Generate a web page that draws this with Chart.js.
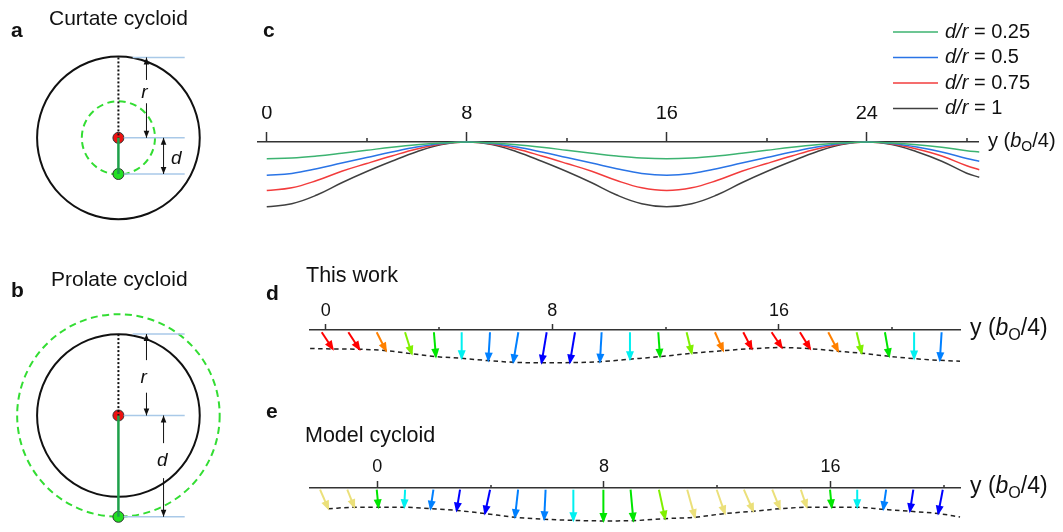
<!DOCTYPE html>
<html>
<head>
<meta charset="utf-8">
<script src="https://cdn.jsdelivr.net/npm/chart.js@4.4.1/dist/chart.umd.min.js"></script>
<style>
  body { margin: 0; background: #fff; width: 1063px; height: 532px; position: relative; overflow: hidden;
         font-family: "Liberation Sans", Arial, sans-serif; color: #111; }
  canvas { position: absolute; }
  .t { position: absolute; line-height: 1; white-space: nowrap; font-size: 21px; }
  .lab { font-weight: bold; }
</style>
</head>
<body>
<canvas id="chartA" width="240" height="200" style="left:0;top:40px"></canvas>
<canvas id="chartB" width="240" height="242" style="left:0;top:290px"></canvas>
<canvas id="chartC" width="823" height="225" style="left:240px;top:0"></canvas>
<canvas id="chartD" width="823" height="130" style="left:240px;top:250px"></canvas>
<canvas id="chartE" width="823" height="132" style="left:240px;top:400px"></canvas>

<div class="t lab" style="left:11px;top:19px">a</div>
<div class="t" style="left:49px;top:7px">Curtate cycloid</div>
<div class="t lab" style="left:11px;top:279px">b</div>
<div class="t" style="left:51px;top:268px">Prolate cycloid</div>
<div class="t lab" style="left:263px;top:19px">c</div>
<div class="t lab" style="left:266px;top:282px">d</div>
<div class="t" style="left:306px;top:265px;font-size:21.5px">This work</div>
<div class="t lab" style="left:266px;top:400px">e</div>
<div class="t" style="left:305px;top:425px;font-size:21.5px">Model cycloid</div>

<script>
const FONT = '"Liberation Sans", Arial, sans-serif';

// ---- panels a / b : rolling circle (radius 1) and tracing point offset d ----
const rollRadius = 1;
const curtateOffset = 0.45;   // d/r in panel a
const prolateOffset = 1.245;  // d/r in panel b

// ---- panel c : cycloid profiles ----
const cPositions = [0, 1, 2, 3, 4, 5, 6, 7, 8, 9, 10, 11, 12, 13, 14, 15, 16, 17, 18, 19, 20, 21, 22, 23, 24, 25, 26, 27, 28, 28.5];
const cRatios = [0.25, 0.5, 0.75, 1];
const cGreen = [-0.67, -0.64, -0.56, -0.45, -0.33, -0.21, -0.11, -0.04, 0, -0.04, -0.11, -0.21, -0.33, -0.45, -0.56, -0.64, -0.67, -0.64, -0.56, -0.45, -0.33, -0.21, -0.11, -0.04, 0, -0.04, -0.11, -0.21, -0.35, -0.40];
const cBlue = [-1.33, -1.26, -1.07, -0.84, -0.62, -0.40, -0.20, -0.06, 0, -0.06, -0.20, -0.40, -0.62, -0.84, -1.07, -1.26, -1.33, -1.26, -1.07, -0.84, -0.62, -0.40, -0.20, -0.06, 0, -0.06, -0.20, -0.40, -0.66, -0.77];
const cRed = [-1.94, -1.83, -1.54, -1.17, -0.86, -0.56, -0.28, -0.08, 0, -0.08, -0.28, -0.56, -0.86, -1.17, -1.54, -1.83, -1.94, -1.83, -1.54, -1.17, -0.86, -0.56, -0.28, -0.08, 0, -0.08, -0.28, -0.56, -0.95, -1.11];
const cBlack = [-2.59, -2.47, -2.12, -1.63, -1.18, -0.77, -0.39, -0.10, 0, -0.10, -0.39, -0.77, -1.18, -1.63, -2.12, -2.47, -2.59, -2.47, -2.12, -1.63, -1.18, -0.77, -0.39, -0.10, 0, -0.10, -0.39, -0.77, -1.25, -1.41];
const cMajorTicks = [0, 8, 16, 24];
const cMinorTicks = [4, 12, 20, 28];

// ---- panel d : this work ----
const dTailX = [-0.14, 0.80, 1.80, 2.80, 3.82, 4.80, 5.80, 6.80, 7.80, 8.80, 9.74, 10.74, 11.74, 12.74, 13.74, 14.74, 15.74, 16.74, 17.74, 18.74, 19.74, 20.77, 21.74];
const dTipX = [0.25, 1.19, 2.13, 3.04, 3.89, 4.80, 5.74, 6.62, 7.62, 8.62, 9.68, 10.74, 11.80, 12.92, 14.03, 15.04, 16.10, 17.10, 18.09, 18.92, 19.89, 20.77, 21.68];
const dTipY = [-0.67, -0.68, -0.73, -0.84, -0.94, -1.00, -1.08, -1.14, -1.16, -1.15, -1.12, -1.03, -0.94, -0.82, -0.73, -0.66, -0.62, -0.66, -0.75, -0.82, -0.93, -1.01, -1.07];
const dColors = ['red', 'red', 'orange', 'yellowgreen', 'green', 'cyan', 'dodger', 'dodger', 'blue', 'blue', 'dodger', 'cyan', 'green', 'yellowgreen', 'orange', 'red', 'red', 'red', 'orange', 'yellowgreen', 'green', 'cyan', 'dodger'];
const dTailY = -0.08;
const dProfileStart = [-0.55, -0.65];
const dProfileEnd = [22.39, -1.10];
const dMajorTicks = [0, 8, 16];
const dMinorTicks = [4, 12, 20];

// ---- panel e : model cycloid ----
const eTailX = [-2.02, -1.06, -0.02, 0.98, 1.98, 2.92, 3.98, 4.97, 5.94, 6.92, 7.98, 8.94, 9.94, 10.94, 11.98, 12.94, 13.94, 14.95, 15.98, 16.94, 17.96, 18.92, 19.96];
const eTipX = [-1.73, -0.81, 0.04, 0.95, 1.88, 2.80, 3.80, 4.86, 5.89, 6.92, 7.98, 9.04, 10.16, 11.21, 12.27, 13.27, 14.21, 15.16, 16.04, 16.94, 17.86, 18.80, 19.80];
const eTipY = [-0.73, -0.68, -0.68, -0.68, -0.73, -0.79, -0.90, -1.03, -1.10, -1.14, -1.16, -1.15, -1.08, -1.03, -0.90, -0.82, -0.73, -0.68, -0.68, -0.68, -0.75, -0.82, -0.90];
const eColors = ['khaki', 'khaki', 'green', 'cyan', 'dodger', 'blue', 'blue', 'dodger', 'dodger', 'cyan', 'green', 'green', 'yellowgreen', 'khaki', 'khaki', 'khaki', 'khaki', 'khaki', 'green', 'cyan', 'dodger', 'blue', 'blue'];
const eTailY = -0.06;
const eProfileEnd = [20.57, -1.02];
const eMajorTicks = [0, 8, 16];
const eMinorTicks = [4, 12, 20];

const palette = {
  red: '#ff0000', orange: '#ff8000', yellowgreen: '#80f000', green: '#00e600',
  cyan: '#00f0f0', dodger: '#0080ff', blue: '#0000ff', khaki: '#ebe07a'
};

// ---------- plugins ----------
const arrowHead = (ctx, x, y, ang, len, half) => {
  ctx.beginPath();
  ctx.moveTo(x, y);
  ctx.lineTo(x - len * Math.cos(ang) + half * Math.sin(ang), y - len * Math.sin(ang) - half * Math.cos(ang));
  ctx.lineTo(x - len * Math.cos(ang) - half * Math.sin(ang), y - len * Math.sin(ang) + half * Math.cos(ang));
  ctx.closePath();
  ctx.fill();
};

// circles, dimension arrows and their italic labels (panels a, b)
const diagram = {
  id: 'diagram',
  beforeDatasetsDraw(chart, args, o) {
    const { ctx, scales: { x, y } } = chart;
    const cx = x.getPixelForValue(0), cy = y.getPixelForValue(0);
    (o.circles || []).forEach(c => {
      ctx.save();
      ctx.beginPath();
      ctx.setLineDash(c.dash || []);
      ctx.lineWidth = c.width;
      ctx.strokeStyle = c.color;
      ctx.arc(cx, cy, x.getPixelForValue(c.r) - cx, 0, Math.PI * 2);
      ctx.stroke();
      ctx.restore();
    });
  },
  afterDatasetsDraw(chart, args, o) {
    const { ctx, scales: { x, y } } = chart;
    (o.dims || []).forEach(dm => {
      const px = x.getPixelForValue(dm.x);
      const y1 = y.getPixelForValue(dm.from), y2 = y.getPixelForValue(dm.to);
      ctx.save();
      ctx.strokeStyle = '#111';
      ctx.fillStyle = '#111';
      ctx.lineWidth = 1;
      ctx.beginPath();
      if (dm.gap) {
        ctx.moveTo(px, y1); ctx.lineTo(px, y.getPixelForValue(dm.gap[0]));
        ctx.moveTo(px, y.getPixelForValue(dm.gap[1])); ctx.lineTo(px, y2);
      } else {
        ctx.moveTo(px, y1); ctx.lineTo(px, y2);
      }
      ctx.stroke();
      arrowHead(ctx, px, y1, -Math.PI / 2, 7, 2.8);
      arrowHead(ctx, px, y2, Math.PI / 2, 7, 2.8);
      ctx.font = `italic 19px ${FONT}`;
      ctx.textAlign = 'center';
      ctx.textBaseline = 'middle';
      ctx.fillText(dm.label, x.getPixelForValue(dm.labelX), y.getPixelForValue(dm.labelY));
      ctx.restore();
    });
  }
};

// arrowheads at the last point of each arrow dataset (panels d, e)
const arrowHeads = {
  id: 'arrowHeads',
  afterDatasetsDraw(chart) {
    const ctx = chart.ctx;
    chart.data.datasets.forEach((ds, i) => {
      if (!ds.arrowHead) return;
      const pts = chart.getDatasetMeta(i).data;
      const a = pts[0], b = pts[pts.length - 1];
      const ang = Math.atan2(b.y - a.y, b.x - a.x);
      ctx.save();
      ctx.fillStyle = ds.borderColor;
      arrowHead(ctx, b.x + 2 * Math.cos(ang), b.y + 2 * Math.sin(ang), ang, 10, 4);
      ctx.restore();
    });
  }
};

const minorTicks = {
  id: 'minorTicks',
  afterDraw(chart, args, o) {
    const { ctx, chartArea, scales: { x } } = chart;
    ctx.save();
    ctx.strokeStyle = '#333';
    ctx.lineWidth = 1.5;
    o.values.forEach(v => {
      const px = Math.round(x.getPixelForValue(v));
      ctx.beginPath();
      ctx.moveTo(px, chartArea.top);
      ctx.lineTo(px, chartArea.top - o.length);
      ctx.stroke();
    });
    ctx.restore();
  }
};

// "y (b_O/4)" at the right end of the axis
const axisTitle = {
  id: 'axisTitle',
  afterDraw(chart, args, o) {
    const { ctx, chartArea } = chart;
    let x = chartArea.right + o.gap;
    const y = chartArea.top + o.dy;
    const f = o.size;
    const parts = [
      ['y (', `${f}px ${FONT}`, 0],
      ['b', `italic ${f}px ${FONT}`, 0],
      ['O', `${f * 0.7}px ${FONT}`, f * 0.3],
      ['/4)', `${f}px ${FONT}`, 0]
    ];
    ctx.save();
    ctx.fillStyle = '#111';
    ctx.textBaseline = 'middle';
    parts.forEach(([txt, font, off]) => {
      ctx.font = font;
      ctx.fillText(txt, x, y + off);
      x += ctx.measureText(txt).width;
    });
    ctx.restore();
  }
};

const cycloidLegend = {
  id: 'cycloidLegend',
  afterDraw(chart, args, o) {
    const ctx = chart.ctx;
    ctx.save();
    ctx.textBaseline = 'middle';
    ctx.fillStyle = '#111';
    chart.data.datasets.forEach((ds, i) => {
      const y = o.top + i * o.step;
      ctx.strokeStyle = ds.borderColor;
      ctx.lineWidth = 1.5;
      ctx.beginPath();
      ctx.moveTo(o.x, y);
      ctx.lineTo(o.x + o.len, y);
      ctx.stroke();
      let tx = o.x + o.len + 7;
      ctx.font = `italic ${o.size}px ${FONT}`;
      ctx.fillText('d/r', tx, y);
      tx += ctx.measureText('d/r').width;
      ctx.font = `${o.size}px ${FONT}`;
      ctx.fillText(` = ${cRatios[i]}`, tx, y);
    });
    ctx.restore();
  }
};

// ---------- helpers ----------
const seg = (x1, y1, x2, y2, color, width, dash) => ({
  data: [{ x: x1, y: y1 }, { x: x2, y: y2 }],
  borderColor: color, borderWidth: width, borderDash: dash || [], pointRadius: 0, clip: false
});
const dot = (x, y, color) => ({
  data: [{ x, y }], showLine: false, pointRadius: 5.5,
  pointBackgroundColor: color, pointBorderColor: '#333', pointBorderWidth: 1, clip: false
});

function topAxis(min, max, majors, tickLen, fontSize, pad) {
  return {
    type: 'linear', position: 'top', min, max,
    afterBuildTicks: s => { s.ticks = majors.map(v => ({ value: v })); },
    afterFit: s => { s.height = 36; },
    grid: { drawOnChartArea: false, drawTicks: true, tickLength: tickLen, tickColor: '#333', tickWidth: 1.5 },
    border: { display: true, color: '#333', width: 1.5 },
    ticks: { autoSkip: false, maxRotation: 0, padding: pad, color: '#111', font: { size: fontSize, family: FONT } }
  };
}

const baseOptions = {
  responsive: false, animation: false, events: [], devicePixelRatio: 1
};

// ---------- panel a / b ----------
function circlePanel(id, offset, yMin, yMax, dims) {
  const guides = '#a9c9e8';
  new Chart(document.getElementById(id), {
    type: 'line',
    data: {
      datasets: [
        seg(0.175, rollRadius, 0.815, rollRadius, guides, 1.5),
        seg(0.066, 0, 0.815, 0, guides, 1.5),
        seg(0.066, -offset, 0.815, -offset, guides, 1.5),
        seg(0, rollRadius, 0, 0, '#111', 2, [2, 2]),
        seg(0, 0, 0, -offset, '#1ea04a', 2.5),
        dot(0, 0, '#ee1111'),
        dot(0, -offset, '#22e022')
      ]
    },
    options: {
      ...baseOptions,
      layout: { padding: 0 },
      scales: {
        x: { type: 'linear', display: false, min: -1.376, max: 1.415 },
        y: { type: 'linear', display: false, min: yMin, max: yMax }
      },
      plugins: {
        legend: { display: false }, tooltip: { enabled: false },
        diagram: {
          circles: [
            { r: rollRadius, color: '#111', width: 2 },
            { r: offset, color: '#33dd33', width: 2, dash: [7, 4.5] }
          ],
          dims
        }
      }
    },
    plugins: [diagram]
  });
}

circlePanel('chartA', curtateOffset, -1.19, 1.136, [
  { x: 0.345, from: rollRadius, to: 0, label: 'r', labelX: 0.32, labelY: 0.56, gap: [0.72, 0.43] },
  { x: 0.555, from: 0, to: -curtateOffset, label: 'd', labelX: 0.71, labelY: -0.26 }
]);
circlePanel('chartB', prolateOffset, -1.352, 1.462, [
  { x: 0.345, from: rollRadius, to: 0, label: 'r', labelX: 0.31, labelY: 0.47, gap: [0.68, 0.28] },
  { x: 0.555, from: 0, to: -prolateOffset, label: 'd', labelX: 0.54, labelY: -0.56, gap: [-0.34, -0.77] }
]);

// ---------- panel c ----------
const curve = (vals, color) => ({
  data: cPositions.map((p, i) => ({ x: p, y: vals[i] })),
  borderColor: color, borderWidth: 1.5, pointRadius: 0,
  tension: 0.4, clip: false
});

new Chart(document.getElementById('chartC'), {
  type: 'line',
  data: {
    datasets: [
      curve(cGreen, '#3cb371'),
      curve(cBlue, '#2a74e6'),
      curve(cRed, '#f23c3c'),
      curve(cBlack, '#404040')
    ]
  },
  options: {
    ...baseOptions,
    layout: { padding: { left: 18, right: 85, top: 106, bottom: 10 } },
    scales: {
      x: topAxis(-0.35, 28.45, cMajorTicks, 10, 20, 7),
      y: { type: 'linear', display: false, min: -2.92, max: 0 }
    },
    plugins: {
      legend: { display: false }, tooltip: { enabled: false },
      minorTicks: { values: cMinorTicks, length: 4 },
      axisTitle: { gap: 10, dy: -1, size: 20 },
      cycloidLegend: { x: 653, len: 45, top: 32, step: 25.5, size: 20 }
    }
  },
  plugins: [minorTicks, axisTitle, cycloidLegend]
});

// ---------- panels d / e ----------
function arrowPanel(id, tailX, tipX, tipY, colors, tailY, profile, xMin, xMax, yMin, pad, majors, minors, tickLen, labelPad) {
  const arrows = tailX.map((tx, i) => ({
    data: [{ x: tx, y: tailY }, { x: tipX[i], y: tipY[i] }],
    borderColor: palette[colors[i]], borderWidth: 2, pointRadius: 0,
    borderCapStyle: 'butt', arrowHead: true, clip: false
  }));
  const dashed = {
    data: profile,
    borderColor: '#222', borderWidth: 1.5, borderDash: [4.5, 3.5], pointRadius: 0,
    cubicInterpolationMode: 'monotone', clip: false
  };
  new Chart(document.getElementById(id), {
    type: 'line',
    data: { datasets: [dashed, ...arrows] },
    options: {
      ...baseOptions,
      layout: { padding: pad },
      scales: {
        x: topAxis(xMin, xMax, majors, tickLen, 18, labelPad),
        y: { type: 'linear', display: false, min: yMin, max: 0 }
      },
      plugins: {
        legend: { display: false }, tooltip: { enabled: false },
        minorTicks: { values: minors, length: 3 },
        axisTitle: { gap: 10, dy: -1, size: 23 }
      }
    },
    plugins: [arrowHeads, minorTicks, axisTitle]
  });
}

const dProfile = [{ x: dProfileStart[0], y: dProfileStart[1] }]
  .concat(dTipX.map((v, i) => ({ x: v, y: dTipY[i] })))
  .concat([{ x: dProfileEnd[0], y: dProfileEnd[1] }]);
const eProfile = eTipX.map((v, i) => ({ x: v, y: eTipY[i] }))
  .concat([{ x: eProfileEnd[0], y: eProfileEnd[1] }]);

arrowPanel('chartD', dTailX, dTipX, dTipY, dColors, dTailY, dProfile,
  -0.554, 22.39, -1.588, { left: 70, right: 103, top: 44, bottom: 5 },
  dMajorTicks, dMinorTicks, 6, 2);
arrowPanel('chartE', eTailX, eTipX, eTipY, eColors, eTailY, eProfile,
  -2.376, 20.568, -1.48, { left: 70, right: 103, top: 52, bottom: 2 },
  eMajorTicks, eMinorTicks, 7, 3);
</script>
</body>
</html>
